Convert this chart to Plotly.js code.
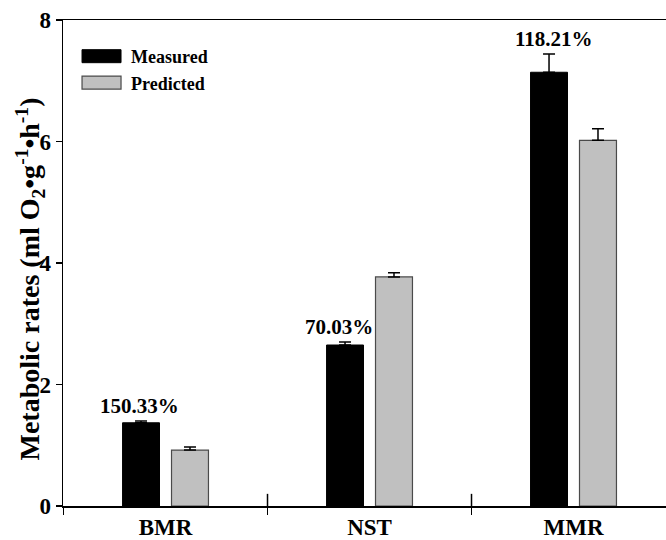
<!DOCTYPE html>
<html>
<head>
<meta charset="utf-8">
<script src="https://cdn.plot.ly/plotly-3.0.1.min.js"></script>
<style>html,body{margin:0;padding:0;overflow:hidden;background:#fff;}</style>
</head>
<body>
<div id="chart" style="width:666px;height:540px;"></div>
<script>
const categories = ['BMR', 'NST', 'MMR'];
const measured = [1.37, 2.65, 7.14];
const measuredErr = [0.03, 0.05, 0.30];
const predicted = [0.92, 3.77, 6.02];
const predictedErr = [0.05, 0.07, 0.19];
const percentLabels = ['150.33%', '70.03%', '118.21%'];
const yTicks = [0, 2, 4, 6, 8];

const FONT = '"Liberation Serif", "Times New Roman", Times, "DejaVu Serif", "Noto Serif", serif';
const zeros = categories.map(() => 0);

const traces = [
  {
    type: 'bar', name: 'Measured', x: categories, y: measured,
    marker: {color: '#000000', line: {color: '#000000', width: 1}},
    error_y: {type: 'data', array: measuredErr, arrayminus: zeros, symmetric: false,
              color: '#000000', thickness: 1.5, width: 6}
  },
  {
    type: 'bar', name: 'Predicted', x: categories, y: predicted,
    marker: {color: '#c0c0c0', line: {color: '#4a4a4a', width: 1.2}},
    error_y: {type: 'data', array: predictedErr, arrayminus: zeros, symmetric: false,
              color: '#000000', thickness: 1.5, width: 6}
  }
];

const labelShift = [-26, -31, -20];
const annotations = categories.map((c, i) => ({
  x: c, y: measured[i] + measuredErr[i], xref: 'x', yref: 'y',
  text: '<b>' + percentLabels[i] + '</b>', showarrow: false,
  xanchor: 'center', yanchor: 'bottom', xshift: labelShift[i], yshift: 1,
  font: {family: FONT, size: 21, color: '#000'}
}));

// inner halves of the category-boundary ticks
const boundaryTicks = categories.slice(0, -1).map((c, i) => ({
  type: 'line', xref: 'x', yref: 'paper', x0: i + 0.5, x1: i + 0.5, y0: 0, y1: 0.025,
  line: {color: '#000', width: 1.5}
}));

const layout = {
  width: 666, height: 540,
  margin: {l: 63, r: 0, t: 20, b: 34},
  paper_bgcolor: '#fff', plot_bgcolor: '#fff',
  font: {family: FONT, color: '#000'},
  barmode: 'group', bargap: 0.52, bargroupgap: 0.245,
  showlegend: true,
  legend: {
    x: 0.0299, y: 0.963, xanchor: 'left', yanchor: 'top',
    bgcolor: 'rgba(0,0,0,0)', tracegroupgap: 0, itemwidth: 40,
    font: {family: FONT, size: 18, color: '#000', weight: 'bold'}
  },
  xaxis: {
    type: 'category', range: [-0.5025, 2.4534],
    showline: true, linecolor: '#000', linewidth: 1.5, mirror: true,
    ticks: 'outside', ticklen: 7, tickwidth: 1.5, tickcolor: '#000', tickson: 'boundaries',
    showgrid: false, zeroline: false,
    tickfont: {family: FONT, size: 23, color: '#000', weight: 'bold'}
  },
  yaxis: {
    range: [0, 8], tickvals: yTicks, ticktext: yTicks.map(String),
    showline: true, linecolor: '#000', linewidth: 1.5, mirror: false,
    ticks: 'outside', ticklen: 6, tickwidth: 1.5, tickcolor: '#000',
    showgrid: false, zeroline: false,
    tickfont: {family: FONT, size: 23, color: '#000', weight: 'bold'},
    title: {
      text: 'Metabolic rates (ml O<sub>2</sub>•g<sup>-1</sup>•h<sup>-1</sup>)',
      font: {family: FONT, size: 28, color: '#000', weight: 'bold'},
      standoff: 2
    }
  },
  shapes: boundaryTicks,
  annotations: annotations
};

Plotly.newPlot('chart', traces, layout, {displayModeBar: false, staticPlot: true}).then(() => {
  document.querySelectorAll('.legend .traces').forEach(tr => {
    const txt = tr.querySelector('.legendtext');
    const tx = txt ? parseFloat(txt.getAttribute('x')) || 50 : 50;
    tr.querySelectorAll('.legendpoints path').forEach(p => {
      p.setAttribute('d', 'M-19.5,6.5H19.5V-6.5H-19.5Z');
      p.setAttribute('transform', 'translate(' + (tx - 10 - 19.5) + ',0)');
    });
  });
  const yt = document.querySelector('.ytitle');
  if (yt) {
    const r = yt.getBoundingClientRect();
    const dx = 30 - (r.left + r.width / 2);
    const dy = 279 - (r.top + r.height / 2);
    const t = yt.getAttribute('transform') || '';
    yt.setAttribute('transform', 'translate(' + dx + ',' + dy + ') ' + t);
  }
});
</script>
</body>
</html>
